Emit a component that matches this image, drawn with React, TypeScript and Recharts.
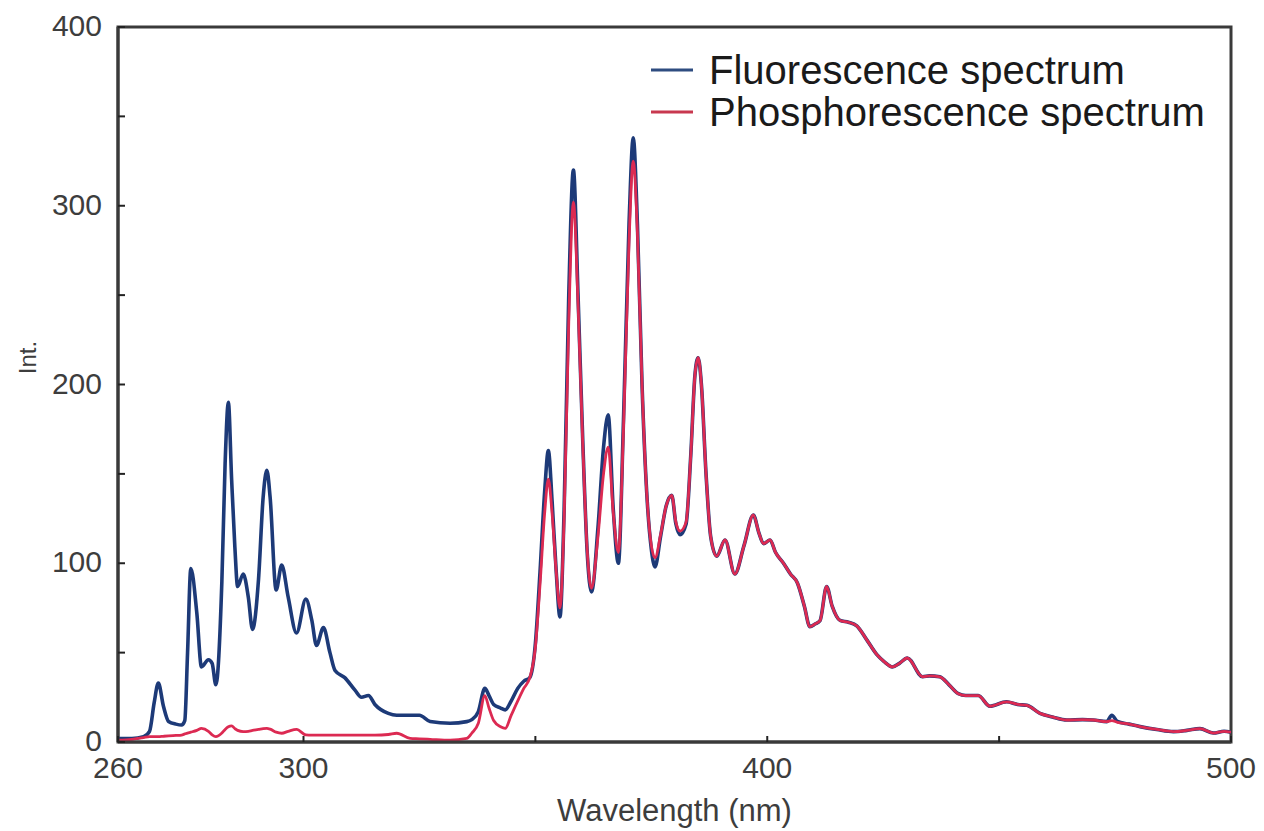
import React from 'react';
import { LineChart, Line, XAxis, YAxis, ReferenceArea } from 'recharts';

const wavelengths = [
  260, 263, 265.5, 266.8, 267.8, 268.7, 269.8, 270.9, 272.5, 273.7,
  274.4, 275.0, 275.7, 277.0, 278.0, 279.5, 280.3, 281.1, 282.4, 283.1,
  283.8, 284.5, 285.2, 285.8, 287.0, 288.1, 289.0, 290.3, 291.3, 292.1,
  292.8, 294.1, 295.3, 296.7, 298.5, 300.5, 301.8, 302.8, 304.3, 305.7,
  306.8, 308.9, 311.1, 312.5, 314.0, 315.4, 318.3, 320.1, 323.0, 325.0,
  327.3, 331.6, 335.2, 336.3, 337.7, 339.1, 340.0, 341.0, 342.5, 343.5,
  344.8, 346.2, 347.5, 348.8, 350.0, 351.0, 352.0, 352.8, 353.6, 354.5,
  355.3, 356.2, 357.2, 358.2, 359.2, 360.2, 361.2, 362.1, 363.5, 364.7,
  365.7, 366.8, 367.9, 369.0, 370.2, 371.1, 372.0, 373.0, 374.0, 375.0,
  375.8, 377.0, 378.2, 379.4, 380.3, 381.2, 382.5, 383.5, 384.4, 385.1,
  385.8, 386.8, 387.8, 389.1, 390.9, 393.0, 395.0, 397.0, 398.2, 399.2,
  400.6, 401.8, 403.5, 405.0, 406.5, 408.0, 409.2, 410.3, 411.4, 412.8,
  414.0, 415.7, 417.5, 419.3, 421.5, 423.6, 425.2, 427.0, 428.5, 430.2,
  433.5, 435.0, 437.2, 439.2, 441.2, 442.8, 445.5, 448.0, 451.6, 454.0,
  456.0, 458.8, 461.5, 464.6, 468.0, 470.3, 473.2, 474.3, 475.5, 478.0,
  480.4, 484.0, 487.6, 490.5, 493.3, 496.2, 498.5, 500,
];

const fluorescence = [
  2, 2, 3, 6, 22, 33, 20, 11.5, 10, 9.5,
  12, 50, 97, 72, 42, 46, 44, 32, 90, 156,
  190, 147, 109, 87, 94, 81, 63, 91, 137, 152,
  137, 85, 99, 81, 61, 80, 68, 54, 64, 50,
  40, 36, 29, 25, 26, 21, 16, 15, 15, 15,
  11.5, 10.5, 11.4, 12.5, 17, 30, 26, 21, 19, 18,
  23, 30, 34, 36, 55, 95, 140, 163, 135, 95,
  70, 130, 250, 320, 250, 170, 105, 84, 120, 165,
  183, 130, 100, 180, 290, 338, 290, 200, 140, 108,
  98, 115, 132, 138, 122, 116, 122, 160, 205, 215,
  200, 150, 115, 104, 113, 94, 110, 127, 117, 111,
  113, 106, 100, 94, 89, 76, 64.5, 66, 68, 87,
  76, 68, 67, 65, 57, 49, 45, 42, 44, 47,
  36.5, 37, 36.5, 32, 27, 26, 26, 20, 22.5, 21,
  20.5, 16, 14, 12.3, 12.5, 12.3, 11.4, 15, 11.5, 10,
  8.6, 7, 5.8, 6.5, 7.5, 5, 6, 5.5,
];

const phosphorescence = [
  1, 1.5, 2.5, 3, 3, 3, 3.2, 3.4, 3.7, 3.9,
  4.5, 5, 5.5, 6.5, 7.6, 6, 4, 3, 5, 7,
  8.5, 9, 7.5, 6.5, 5.8, 6, 6.5, 7, 7.5, 7.6,
  7.2, 5.5, 4.9, 6, 7.1, 4, 3.9, 3.9, 3.9, 3.9,
  3.9, 3.9, 3.9, 3.9, 3.9, 3.8, 4.2, 4.9, 2, 1.8,
  1.5, 1, 2, 5, 10.5, 26, 19, 12, 8.5, 7.6,
  15, 23, 30, 36, 53, 88, 128, 147, 128, 95,
  75, 125, 235, 302, 245, 168, 106, 86, 115, 150,
  165, 128, 106, 175, 280, 325, 285, 200, 140, 110,
  103, 116, 132, 138, 123, 118, 123, 160, 205, 215,
  200, 150, 115, 104, 113, 94, 110, 127, 117, 111,
  113, 106, 100, 94, 89, 76, 64.5, 66, 68, 87,
  76, 68, 67, 65, 57, 49, 45, 42, 44, 47,
  36.5, 37, 36.5, 32, 27, 26, 26, 20, 22.5, 21,
  20.5, 16, 14, 12.3, 12.5, 12.3, 11.4, 12, 11, 10,
  8.6, 7, 5.8, 6.5, 7.5, 5, 6, 5.5,
];

const xTicks = [260, 300, 350, 400, 450, 500];
const xTickLabels = [260, 300, 400, 500];
const yTicks = [0, 50, 100, 150, 200, 250, 300, 350, 400];
const yTickLabels = [0, 100, 200, 300, 400];

const seriesNames = ['Fluorescence spectrum', 'Phosphorescence spectrum'];
const seriesColors = ['#1d3a78', '#dc2a52'];
const legendColors = ['#2e4c80', '#c8384f'];

const data = wavelengths.map((w, i) => ({
  wl: w,
  fl: fluorescence[i],
  ph: phosphorescence[i],
}));

const FONT = '"Liberation Sans", Arial, Helvetica, sans-serif';
const AXIS_COLOR = '#3a3a3a';
const TEXT_COLOR = '#3d3d3d';

function XTick(props: any) {
  const { x, y, payload } = props;
  const v = payload.value;
  return (
    <g>
      <line x1={x} y1={y} x2={x} y2={y - 6} stroke="#222" strokeWidth={2} />
      {xTickLabels.includes(v) && (
        <text x={x} y={y + 36} textAnchor="middle" fontSize={30} fill={TEXT_COLOR} fontFamily={FONT}>
          {v}
        </text>
      )}
    </g>
  );
}

function YTick(props: any) {
  const { x, y, payload } = props;
  const v = payload.value;
  return (
    <g>
      <line x1={x} y1={y} x2={x + 7} y2={y} stroke="#222" strokeWidth={2} />
      {yTickLabels.includes(v) && (
        <text x={x - 16} y={y + 9} textAnchor="end" fontSize={30} fill={TEXT_COLOR} fontFamily={FONT}>
          {v}
        </text>
      )}
    </g>
  );
}

function XTitle(props: any) {
  const { viewBox } = props;
  const cx = viewBox.x + viewBox.width / 2;
  return (
    <text x={cx} y={viewBox.y + 79} textAnchor="middle" fontSize={31} fill={TEXT_COLOR} fontFamily={FONT}>
      Wavelength (nm)
    </text>
  );
}

function YTitle(props: any) {
  const { viewBox } = props;
  const cx = 36;
  const cy = viewBox.y + viewBox.height / 2 - 27;
  return (
    <text
      x={cx}
      y={cy}
      textAnchor="middle"
      fontSize={24}
      fill={TEXT_COLOR}
      fontFamily={FONT}
      transform={`rotate(-90, ${cx}, ${cy})`}
    >
      Int.
    </text>
  );
}

function LegendBox() {
  return (
    <div
      style={{
        position: 'absolute',
        left: 651,
        top: 49,
        fontFamily: FONT,
        fontSize: 40,
        color: '#1a1a1a',
        lineHeight: '42px',
        pointerEvents: 'none',
      }}
    >
      {seriesNames.map((name, i) => (
        <div key={name} style={{ display: 'flex', alignItems: 'center', whiteSpace: 'nowrap' }}>
          <svg width={42} height={6} style={{ display: 'block' }}>
            <line x1={0} y1={3} x2={42} y2={3} stroke={legendColors[i]} strokeWidth={3} />
          </svg>
          <span style={{ marginLeft: 16 }}>{name}</span>
        </div>
      ))}
    </div>
  );
}

export default function App() {
  return (
    <div style={{ position: 'fixed', left: 0, top: 0, width: 1264, height: 831, background: '#fff' }}>
      <LineChart
        width={1264}
        height={831}
        data={data}
        margin={{ top: 27, right: 33, left: 0, bottom: 4 }}
      >
        <ReferenceArea
          x1={260}
          x2={500}
          y1={0}
          y2={400}
          fill="none"
          stroke={AXIS_COLOR}
          strokeWidth={3}
          ifOverflow="visible"
        />
        <XAxis
          dataKey="wl"
          type="number"
          domain={[260, 500]}
          ticks={xTicks}
          interval={0}
          tickSize={0}
          tickMargin={0}
          tickLine={false}
          tick={<XTick />}
          axisLine={{ stroke: AXIS_COLOR, strokeWidth: 3 }}
          height={85}
          allowDataOverflow
          label={<XTitle />}
        />
        <YAxis
          type="number"
          domain={[0, 400]}
          ticks={yTicks}
          interval={0}
          tickSize={0}
          tickMargin={0}
          tickLine={false}
          tick={<YTick />}
          axisLine={{ stroke: AXIS_COLOR, strokeWidth: 3 }}
          width={118}
          allowDataOverflow
          label={<YTitle />}
        />
        <Line
          type="monotone"
          dataKey="fl"
          name={seriesNames[0]}
          stroke={seriesColors[0]}
          strokeWidth={3.6}
          dot={false}
          isAnimationActive={false}
        />
        <Line
          type="monotone"
          dataKey="ph"
          name={seriesNames[1]}
          stroke={seriesColors[1]}
          strokeWidth={2.8}
          dot={false}
          isAnimationActive={false}
        />
      </LineChart>
      <LegendBox />
    </div>
  );
}
